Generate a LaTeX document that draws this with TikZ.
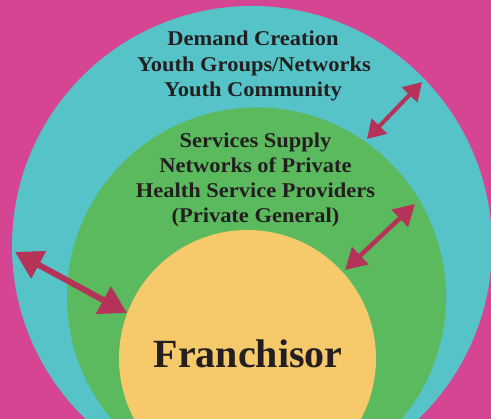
\documentclass[tikz,border=0pt]{standalone}
\usepackage{fontspec}
\setmainfont{Liberation Serif}
\newfontfamily\lblfont{Liberation Serif}[FakeStretch=1.07]
\usetikzlibrary{arrows.meta}
\definecolor{bgmag}{HTML}{D64592}
\definecolor{ringcyan}{HTML}{55C3C7}
\definecolor{ringgreen}{HTML}{5BBA5E}
\definecolor{coreyellow}{HTML}{F6C96A}
\definecolor{arrowred}{HTML}{B53259}
\definecolor{textdark}{HTML}{231F20}
\tikzset{
  lbl/.style={anchor=base, inner sep=0pt, text=textdark, font=\lblfont\fontsize{21}{25}\selectfont\bfseries},
  biglbl/.style={anchor=base, inner sep=0pt, text=textdark, font=\fontsize{40}{44}\selectfont\bfseries},
  bigarrow/.style={draw=arrowred, line width=6pt, {Triangle[length=27pt,width=30pt]}-{Triangle[length=27pt,width=30pt]}},
  smallarrow/.style={draw=arrowred, line width=4pt, {Triangle[length=18pt,width=21pt]}-{Triangle[length=18pt,width=21pt]}},
  midarrow/.style={draw=arrowred, line width=4.5pt, {Triangle[length=21pt,width=23pt]}-{Triangle[length=21pt,width=23pt]}}
}
\begin{document}
\begin{tikzpicture}[x=1pt, y=-1pt]
\useasboundingbox (0,0) rectangle (491,419);
\fill[bgmag] (0,0) rectangle (491,419);
\begin{scope}
\clip (0,0) rectangle (491,419);
\fill[ringcyan] (252,246) circle[radius=240];
\fill[ringgreen] (256.5,297) circle[radius=189.5];
\fill[coreyellow] (247.5,358.5) circle[radius=128.5];
\end{scope}
% texts
\node[lbl] (d1) at (253,46) {Demand Creation};
\node[lbl] (d2) at (254,72) {Youth Groups/Networks};
\node[lbl] (d3) at (253,97) {Youth Community};
\node[lbl] (s1) at (255.5,148) {Services Supply};
\node[lbl] (s2) at (255.5,173) {Networks of Private};
\node[lbl] (s3) at (255.5,198) {Health Service Providers};
\node[lbl] (s4) at (255.5,223) {(Private General)};
\node[biglbl] (fr) at (248,368) {Franchisor};
% arrows
\coordinate (a1) at (15,252);
\coordinate (a2) at (127,313);
\coordinate (b1) at (422,82);
\coordinate (b2) at (367,139);
\coordinate (c1) at (415,204);
\coordinate (c2) at (345,270);
\draw[bigarrow] (a1) -- (a2);
\draw[smallarrow] (b1) -- (b2);
\draw[midarrow] (c1) -- (c2);
\end{tikzpicture}
\end{document}
